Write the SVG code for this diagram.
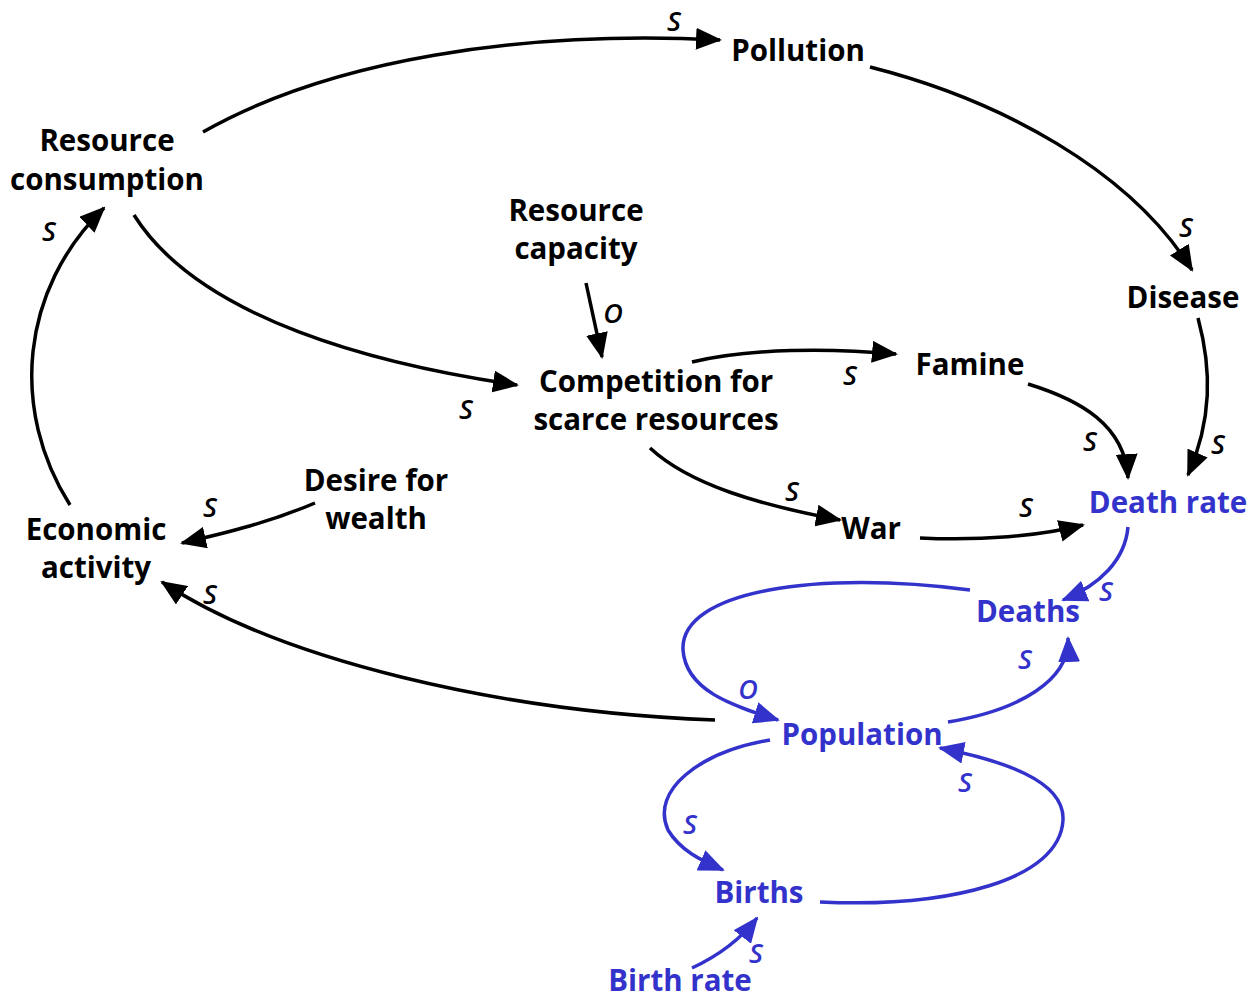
<svg xmlns="http://www.w3.org/2000/svg" width="1259" height="999" viewBox="0 0 1259 999">
<style>
.n{font-family:"Open Sans","Noto Sans","DejaVu Sans",sans-serif;font-weight:bold;font-size:29.5px;text-anchor:middle;fill:#000}
.b{fill:#3333cc}
.l{font-family:"Open Sans","Noto Sans","DejaVu Sans",sans-serif;font-weight:600;font-style:italic;font-size:27px;text-anchor:middle;fill:#000}
.lb{fill:#3333cc}
.k{fill:none;stroke:#000;stroke-width:3.5;marker-end:url(#ak)}
.u{fill:none;stroke:#3333cc;stroke-width:3.5;marker-end:url(#au)}
</style>
<defs>
<marker id="ak" viewBox="0 0 26 22" refX="24" refY="11" markerWidth="26" markerHeight="22" markerUnits="userSpaceOnUse" orient="auto"><path d="M0,0 L26,11 L0,22 z" fill="#000"/></marker>
<marker id="au" viewBox="0 0 26 22" refX="24" refY="11" markerWidth="26" markerHeight="22" markerUnits="userSpaceOnUse" orient="auto"><path d="M0,0 L26,11 L0,22 z" fill="#3333cc"/></marker>
</defs>
<rect width="1259" height="999" fill="#fff"/>
<g id="connectors">
<path class="k" d="M203,132 C330,60 520,30 720,40"/>
<path class="k" d="M870,67 C1000,100 1130,170 1192,270"/>
<path class="k" d="M1198,318 C1212,370 1212,420 1188,475"/>
<path class="k" d="M1028,384 C1080,400 1125,425 1128,478"/>
<path class="k" d="M692,362 C750,348 830,348 896,354"/>
<path class="k" d="M650,448 C690,485 760,505 840,520"/>
<path class="k" d="M920,538 C980,541 1040,536 1083,525"/>
<path class="k" d="M586,283 L602,357"/>
<path class="k" d="M134,215 C200,320 380,365 517,385"/>
<path class="k" d="M70,505 C10,410 20,290 104,208"/>
<path class="k" d="M315,503 C270,522 230,532 182,543"/>
<path class="k" d="M715,720 C500,712 280,660 162,582"/>
<path class="u" d="M1128,527 C1125,560 1100,585 1063,600"/>
<path class="u" d="M970,590 C820,570 680,590 683,650 C686,690 730,705 778,720"/>
<path class="u" d="M948,722 C1020,710 1070,680 1068,638"/>
<path class="u" d="M770,740 C700,752 650,790 668,830 C680,850 700,860 723,870"/>
<path class="u" d="M820,902 C950,908 1060,880 1063,820 C1065,780 1000,760 940,748"/>
<path class="u" d="M692,968 C720,955 740,940 757,918"/>
<g id="labels">
<text class="l" x="674" y="31">S</text>
<text class="l" x="1186" y="237">S</text>
<text class="l" x="1218" y="454">S</text>
<text class="l" x="1090" y="451">S</text>
<text class="l" x="850" y="385">S</text>
<text class="l" x="792" y="501">S</text>
<text class="l" x="1026" y="517">S</text>
<text class="l" x="613" y="323">O</text>
<text class="l" x="466" y="419">S</text>
<text class="l" x="49" y="241">S</text>
<text class="l" x="210" y="517">S</text>
<text class="l" x="210" y="604">S</text>
<text class="l lb" x="1106" y="601">S</text>
<text class="l lb" x="748" y="699">O</text>
<text class="l lb" x="1025" y="669">S</text>
<text class="l lb" x="690" y="834">S</text>
<text class="l lb" x="965" y="792">S</text>
<text class="l lb" x="756" y="963">S</text>
</g>
</g>
<g id="pollution"><text class="n" x="798" y="61">Pollution</text></g>
<g id="resource-consumption"><text class="n" x="107" y="151">Resource</text><text class="n" x="107" y="190">consumption</text></g>
<g id="resource-capacity"><text class="n" x="576" y="221">Resource</text><text class="n" x="576" y="259">capacity</text></g>
<g id="competition"><text class="n" x="656" y="392">Competition for</text><text class="n" x="656" y="430">scarce resources</text></g>
<g id="famine"><text class="n" x="970" y="375">Famine</text></g>
<g id="disease"><text class="n" x="1183" y="308">Disease</text></g>
<g id="war"><text class="n" x="871" y="539">War</text></g>
<g id="desire-for-wealth"><text class="n" x="376" y="491">Desire for</text><text class="n" x="376" y="529">wealth</text></g>
<g id="economic-activity"><text class="n" x="96" y="540">Economic</text><text class="n" x="96" y="578">activity</text></g>
<g id="death-rate"><text class="n b" x="1168" y="513">Death rate</text></g>
<g id="deaths"><text class="n b" x="1028" y="622">Deaths</text></g>
<g id="population"><text class="n b" x="862" y="745">Population</text></g>
<g id="births"><text class="n b" x="759" y="903">Births</text></g>
<g id="birth-rate"><text class="n b" x="680" y="991">Birth rate</text></g>
</svg>
